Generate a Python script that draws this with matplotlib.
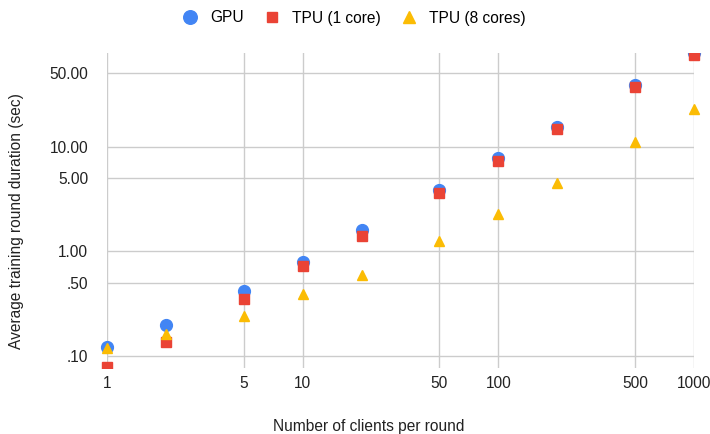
import matplotlib
matplotlib.use("Agg")
import matplotlib.pyplot as plt
from matplotlib.ticker import FixedLocator, FixedFormatter, NullLocator
from matplotlib.patches import Rectangle

plt.rcParams['font.family'] = ['Liberation Sans', 'DejaVu Sans']

clients = [1, 2, 5, 10, 20, 50, 100, 200, 500, 1000]
gpu = [0.121, 0.196, 0.42, 0.785, 1.58, 3.84, 7.71, 15.3, 38.8, 78.0]
tpu1 = [0.079, 0.136, 0.347, 0.72, 1.39, 3.61, 7.27, 14.6, 36.8, 75.0]
tpu8 = [0.118, 0.16, 0.24, 0.388, 0.59, 1.25, 2.29, 4.45, 11.1, 22.7]

xticks = [1, 5, 10, 50, 100, 500, 1000]
xticklabels = ["1", "5", "10", "50", "100", "500", "1000"]
yticks = [0.1, 0.5, 1, 5, 10, 50]
yticklabels = [".10", ".50", "1.00", "5.00", "10.00", "50.00"]

FS = 11.2

fig = plt.figure(figsize=(7.1, 4.34), dpi=100)
ax = fig.add_axes([107/710, 1-368/434, (694-107)/710, (368-53)/434])

ax.set_xscale('log')
ax.set_yscale('log')
ax.set_xlim(1, 1000)
ax.set_ylim(0.0765, 78.5)

ax.xaxis.set_major_locator(FixedLocator(xticks))
ax.xaxis.set_major_formatter(FixedFormatter(xticklabels))
ax.xaxis.set_minor_locator(NullLocator())
ax.yaxis.set_major_locator(FixedLocator(yticks))
ax.yaxis.set_major_formatter(FixedFormatter(yticklabels))
ax.yaxis.set_minor_locator(NullLocator())

ax.grid(True, color='#cccccc', linewidth=1.0)
ax.set_axisbelow(True)
for s in ax.spines.values():
    s.set_visible(False)
ax.tick_params(length=0, labelsize=FS, colors='#222222')
ax.tick_params(axis='x', pad=6)
ax.tick_params(axis='y', pad=13.5)
for lbl in ax.get_xticklabels():
    if lbl.get_text() == "1000":
        lbl.set_horizontalalignment('right')
        lbl.set_x(1000)
ax.xaxis.get_major_ticks()[-1].label1.set_horizontalalignment('center')

clip = Rectangle((-0.05, 0), 1.1, 1, transform=ax.transAxes, visible=False)
ax.add_patch(clip)

series = [
    (gpu, 'o', '#4285F4', 8.5, 'GPU'),
    (tpu1, 's', '#EA4335', 6.5, 'TPU (1 core)'),
    (tpu8, '^', '#FBBC04', 7.5, 'TPU (8 cores)'),
]
for vals, m, c, ms, lab in series:
    ln, = ax.plot(clients, vals, m, color=c, markersize=ms, label=lab, linestyle='none')
    ln.set_clip_path(clip)

leg = fig.legend(loc='center', bbox_to_anchor=(353/710, 1-18/434), ncol=3, frameon=False,
                 fontsize=FS, handletextpad=0.7, columnspacing=1.2, handlelength=1.2,
                 markerscale=1.15)

fig.text(369/710, 1-427/434, "Number of clients per round", ha='center', va='center',
         fontsize=FS, color='#222222')
fig.text(17/710, 1-221/434, "Average training round duration (sec)", ha='center', va='center',
         rotation=90, fontsize=FS, color='#222222')

fig.savefig("out.png", dpi=100)
